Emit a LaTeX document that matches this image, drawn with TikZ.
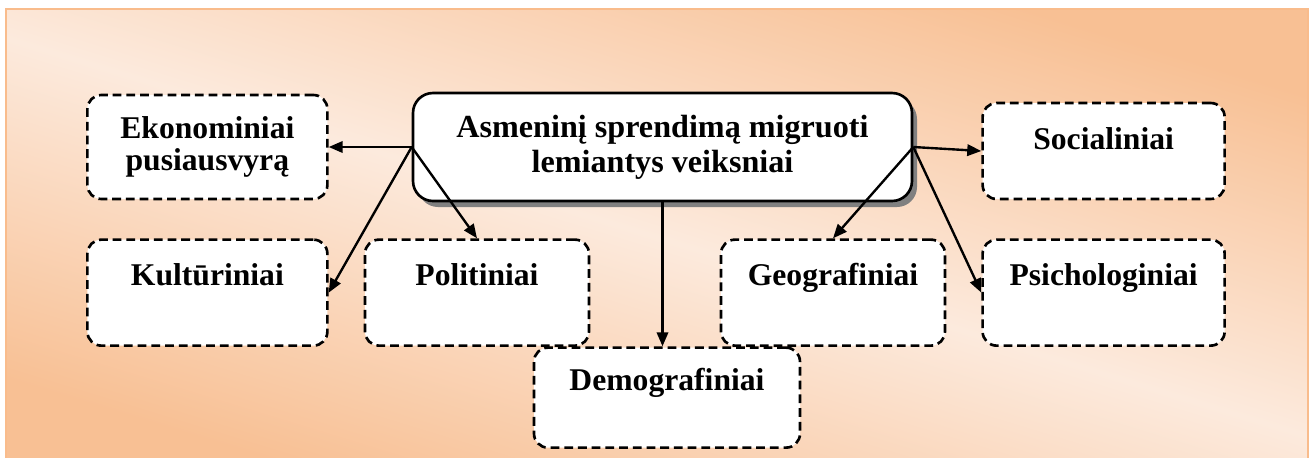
\documentclass[tikz,border=0pt]{standalone}
\usepackage{fontspec}
\setmainfont{Liberation Serif}
\usetikzlibrary{shapes,arrows.meta,positioning,shadows}
\definecolor{peach}{RGB}{248,192,148}
\definecolor{cream}{RGB}{252,234,221}
\definecolor{rim}{RGB}{249,188,140}
\tikzstyle{main}=[rectangle,draw,line width=1.5pt,rounded corners=0.4cm,fill=white,align=center,minimum width=9.98cm,minimum height=2.16cm,inner sep=0pt,font=\fontsize{18.3}{19.9}\selectfont\bfseries,drop shadow={shadow xshift=0.1cm,shadow yshift=-0.12cm,fill=black!50,opacity=1}]
\tikzstyle{fac}=[rectangle,draw,dash pattern=on 5pt off 2.8pt,line width=1.5pt,rounded corners=0.28cm,fill=white,align=center,inner sep=0pt,font=\fontsize{18}{18.5}\selectfont\bfseries]
\tikzstyle{sfac}=[fac,text height=0.92cm,text depth=1.2cm]
\tikzstyle{arr}=[-{Triangle[length=8pt,width=6.5pt]},line width=1.35pt]
\begin{document}
\begin{tikzpicture}
\useasboundingbox (0,0) rectangle (26.26,-9.14);
% background
\shade[top color=peach,bottom color=peach,middle color=cream,shading angle=-17] (0.12,-0.18) rectangle (26.16,-9.3);
\draw[rim,line width=1.1pt] (0.12,-0.18) rectangle (26.16,-9.3);
\node[main] (c) at (13.25,-2.94) {Asmeninį sprendimą migruoti\\lemiantys veiksniai};
\node[fac, left=1.66cm of c, minimum width=4.8cm, minimum height=2.08cm] (eko) {Ekonominiai\\pusiausvyrą};
\node[sfac, below=0.76cm of eko, minimum width=4.8cm] (kul) {Kultūriniai};
\node[sfac, right=0.7cm of kul, minimum width=4.48cm] (pol) {Politiniai};
\node[sfac, right=1.36cm of c, yshift=-0.08cm, minimum width=4.84cm, text depth=1.0cm] (soc) {Socialiniai};
\node[sfac, below=0.76cm of soc, minimum width=4.84cm] (psi) {Psichologiniai};
\node[sfac, left=0.7cm of psi, minimum width=4.48cm] (geo) {Geografiniai};
\node[sfac, below=2.88cm of c, xshift=0.09cm, minimum width=5.32cm, text height=0.86cm, text depth=1.14cm] (dem) {Demografiniai};
\draw[arr] (c.west) -- (eko.east);
\draw[arr] (c.west) -- (kul.east);
\draw[arr] (c.west) -- (pol.north);
\draw[arr] (c.east) -- (soc.west);
\draw[arr] (c.east) -- (geo.north);
\draw[arr] (c.east) -- (psi.west);
\draw[arr] (c.south) -- (c.south |- dem.north);
\end{tikzpicture}
\end{document}
